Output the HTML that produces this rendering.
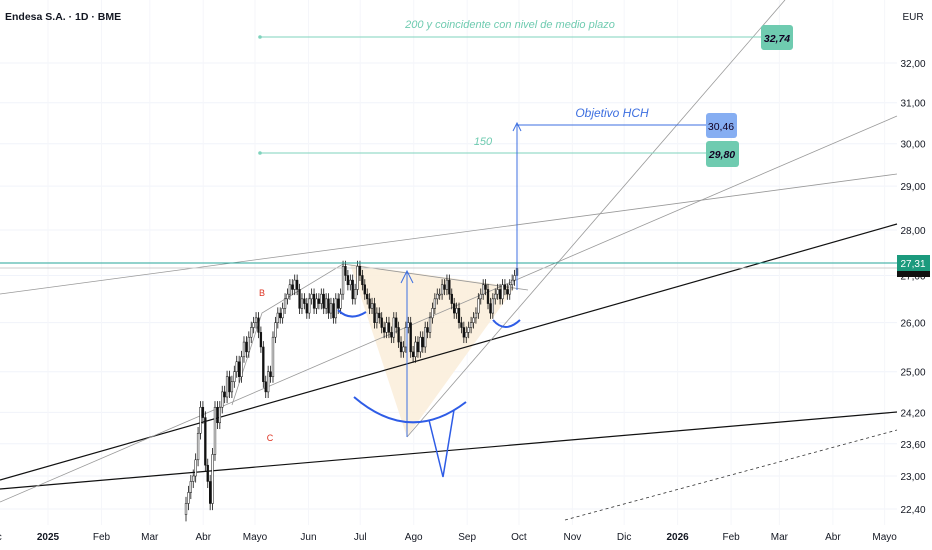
<!DOCTYPE html>
<html><head><meta charset="utf-8"><style>
body{margin:0;background:#fff;font-family:"Liberation Sans",sans-serif}
svg{display:block}
text{font-family:"Liberation Sans",sans-serif}
</style></head><body>
<svg id="chart" width="932" height="550" viewBox="0 0 932 550">
<g id="grid"></g>
<polygon points="350,264 515,287 407,437" fill="#fbeedb" opacity="0.9"/>
<g fill="none">
<line x1="0" y1="480" x2="897" y2="224" stroke="#111" stroke-width="1.2"/>
<line x1="0" y1="489" x2="897" y2="412" stroke="#111" stroke-width="1.2"/>
<line x1="0" y1="294" x2="897" y2="174" stroke="#999" stroke-width="0.8"/>
<line x1="0" y1="502" x2="897" y2="116" stroke="#999" stroke-width="0.8"/>
<line x1="407" y1="437" x2="785" y2="0" stroke="#999" stroke-width="0.8"/>
<polyline points="232,405 262,313 343,264 528,290" stroke="#999" stroke-width="0.8"/>
<line x1="0" y1="263" x2="897" y2="263" stroke="#bbb" stroke-width="1"/>
<line x1="0" y1="268" x2="897" y2="268" stroke="#ccc" stroke-width="1"/>
<line x1="565" y1="520" x2="897" y2="430" stroke="#333" stroke-width="0.8" stroke-dasharray="3,3"/>
</g>
<g id="candles"></g>
<line x1="0" y1="263" x2="897" y2="263" stroke="#26a69a" stroke-width="1"/>
<g>
<line x1="260" y1="37" x2="762" y2="37" stroke="#7fd3bd" stroke-width="1"/>
<circle cx="260" cy="37" r="1.8" fill="#7fd3bd"/>
<text x="510" y="28" font-size="11" font-style="italic" fill="#6fcbb0" text-anchor="middle">200 y coincidente con nivel de medio plazo</text>
<rect x="761" y="25" width="32" height="25" rx="3" fill="#6fcbb0"/>
<text x="777" y="42" font-size="10.5" font-weight="bold" font-style="italic" fill="#102" text-anchor="middle">32,74</text>
<line x1="260" y1="153" x2="707" y2="153" stroke="#7fd3bd" stroke-width="1"/>
<circle cx="260" cy="153" r="1.8" fill="#7fd3bd"/>
<text x="483" y="145" font-size="11" font-style="italic" fill="#6fcbb0" text-anchor="middle">150</text>
<rect x="706" y="141" width="33" height="26" rx="3" fill="#6fcbb0"/>
<text x="722" y="158" font-size="10.5" font-weight="bold" font-style="italic" fill="#102" text-anchor="middle">29,80</text>
<polyline points="517,290 517,125 707,125" fill="none" stroke="#3d6fe0" stroke-width="1"/>
<path d="M513,131 L517,123 L521,131" fill="none" stroke="#3d6fe0" stroke-width="1"/>
<text x="612" y="117" font-size="12" font-style="italic" fill="#3d6fe0" text-anchor="middle">Objetivo HCH</text>
<rect x="706" y="113" width="31" height="25" rx="3" fill="#86aef2"/>
<text x="721" y="130" font-size="10.5" fill="#102" text-anchor="middle">30,46</text>
<line x1="407" y1="437" x2="407" y2="272" stroke="#3d6fe0" stroke-width="1"/>
<path d="M401,283 L407,271 L413,283" fill="none" stroke="#3d6fe0" stroke-width="1"/>
<path d="M338,310 Q350,322 366,312" fill="none" stroke="#2e5ce6" stroke-width="2"/>
<path d="M493,320 Q505,334 520,320" fill="none" stroke="#2e5ce6" stroke-width="2"/>
<path d="M354,397 Q410,445 466,402" fill="none" stroke="#2e5ce6" stroke-width="2"/>
<polyline points="429,420 443,477 454,410" fill="none" stroke="#2e5ce6" stroke-width="1.5"/>
<text x="262" y="296" font-size="9" fill="#d32" text-anchor="middle">B</text>
<text x="270" y="441" font-size="9" fill="#d32" text-anchor="middle">C</text>
</g>
<text x="5" y="20" font-size="10.5" font-weight="bold" fill="#131722">Endesa S.A. · 1D · BME</text>
<g id="yaxis"></g>
<g id="xaxis"></g>
<text x="913" y="20" font-size="10" fill="#131722" text-anchor="middle">EUR</text>
<rect x="897" y="255" width="33" height="16" fill="#1b9a7d"/>
<text x="913" y="267" font-size="10" fill="#fff" text-anchor="middle">27,31</text>
<rect x="897" y="271" width="33" height="6" fill="#111"/>
</svg>
<script>
const priceTicks=[32.00,31.00,30.00,29.00,28.00,27.00,26.00,25.00,24.20,23.60,23.00,22.40];
const dateLabels=["Dic","2025","Feb","Mar","Abr","Mayo","Jun","Jul","Ago","Sep","Oct","Nov","Dic","2026","Feb","Mar","Abr","Mayo"];
const dateDays=[-31,0,31,59,90,120,151,181,212,243,273,304,334,365,396,424,455,485];
const closes=[22.5,22.7,22.9,23.0,23.3, 23.8,24.3,24.1,23.2,22.9, 22.5,23.4,24.3,24.0,24.3,
24.6,24.5,24.9,24.6,24.8, 25.0,25.2,24.9,25.3,25.6, 25.4,25.7,25.9,26.0,26.1,
25.8,25.5,24.8,24.6,25.0, 24.9,25.7,26.0,26.2,26.1, 26.3,26.5,26.6,26.8,26.7,
26.9,26.7,26.3,26.5,26.4, 26.2,26.5,26.6,26.3,26.5, 26.4,26.6,26.3,26.5,26.2,
26.4,26.1,26.5,26.3,26.6, 27.2,27.0,26.8,26.9,26.5, 26.7,27.2,27.0,26.8,26.6,
26.5,26.3,26.4,26.0,26.2, 26.1,25.9,25.8,26.0,25.8, 25.7,26.1,25.9,25.6,25.4,
25.5,25.9,26.0,25.4,25.3, 25.6,25.4,25.7,25.5,25.9, 25.8,26.1,26.3,26.5,26.6,
26.6,26.8,26.7,26.9,26.6, 26.4,26.2,26.3,26.0,25.9, 25.7,25.8,25.9,26.0,26.1,
26.2,26.5,26.6,26.8,26.7, 26.4,26.2,26.5,26.6,26.7, 26.5,26.8,26.7,26.6,26.8,
26.9,27.0,27.15];
const firstOpen=22.3;
const NS="http://www.w3.org/2000/svg";
function yOf(p){return 63+(Math.log(32)-Math.log(p))*1250.6;}
function xOfDay(d){return 48+d*1.725;}
const candleX0=186,candleX1=517;
function xOfBar(i){return candleX0+i*(candleX1-candleX0)/(closes.length-1);}
function mk(tag,attrs,parent){const e=document.createElementNS(NS,tag);for(const k in attrs)e.setAttribute(k,attrs[k]);parent.appendChild(e);return e;}
const grid=document.getElementById('grid'),ya=document.getElementById('yaxis'),xa=document.getElementById('xaxis'),cg=document.getElementById('candles');
priceTicks.forEach(p=>{
  const y=yOf(p);
  const g=mk('line',{x1:0,x2:897,y1:y,y2:y,stroke:'#f0f3fa','stroke-width':1},grid);
  
  
  const t=mk('text',{x:913,y:y+4,'font-size':10,fill:'#131722','text-anchor':'middle'},ya);
  t.textContent=p.toFixed(2).replace('.',',');
  
  
});
dateLabels.forEach((l,i)=>{
  const x=xOfDay(dateDays[i]);
  const g=mk('line',{x1:x,x2:x,y1:0,y2:525,stroke:'#f5f6fa','stroke-width':1},grid);
  
  
  const bold=(l==="2025"||l==="2026");
  const t=mk('text',{x:x,y:540,'font-size':10,fill:'#131722','text-anchor':'middle','font-weight':bold?'bold':'normal'},xa);
  t.textContent=l;
  
  
});
closes.forEach((c,i)=>{
  const o=i===0?firstOpen:closes[i-1];
  const hi=Math.max(o,c)+0.12,lo=Math.min(o,c)-0.12;
  const x=xOfBar(i);
  const w=mk('line',{x1:x,x2:x,y1:yOf(hi),y2:yOf(lo),stroke:'#111','stroke-width':0.8},cg);
  
  
  const top=yOf(Math.max(o,c)),bot=yOf(Math.min(o,c));
  const r=mk('rect',{x:x-0.9,y:top,width:1.8,height:Math.max(1,bot-top),fill:c>=o?'#fff':'#111',stroke:'#111','stroke-width':0.5},cg);
  
  
});
</script>
</body></html>
